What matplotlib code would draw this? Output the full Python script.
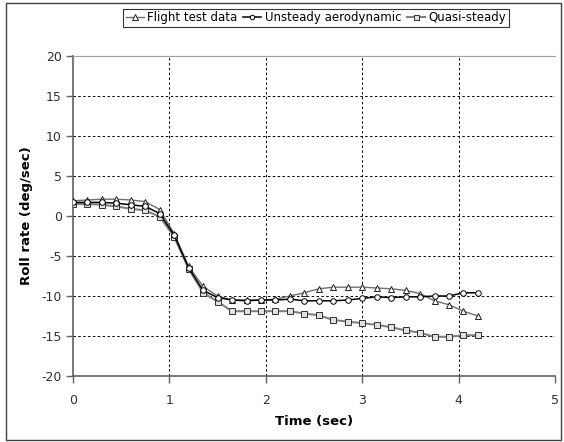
import numpy as np
import matplotlib
matplotlib.use("Agg")
import matplotlib.pyplot as plt
from matplotlib.patches import Rectangle

time_s = [0.0, 0.15, 0.3, 0.45, 0.6, 0.75, 0.9, 1.05, 1.2, 1.35, 1.5, 1.65, 1.8, 1.95,
          2.1, 2.25, 2.4, 2.55, 2.7, 2.85, 3.0, 3.15, 3.3, 3.45, 3.6, 3.75, 3.9, 4.05, 4.2]

flight_test = [1.9, 2.0, 2.1, 2.1, 2.0, 1.8, 0.8, -2.2, -6.3, -8.8, -10.0, -10.5, -10.5, -10.5,
               -10.4, -10.0, -9.6, -9.1, -8.9, -8.9, -8.9, -9.0, -9.1, -9.3, -9.7, -10.6, -11.1, -11.9, -12.5]
unsteady = [1.7, 1.7, 1.7, 1.6, 1.4, 1.2, 0.3, -2.4, -6.5, -9.3, -10.2, -10.5, -10.6, -10.5,
            -10.5, -10.4, -10.6, -10.6, -10.6, -10.5, -10.3, -10.1, -10.2, -10.1, -10.1, -10.0, -10.0, -9.6, -9.6]
quasi_steady = [1.5, 1.5, 1.4, 1.2, 0.9, 0.7, -0.1, -2.6, -6.6, -9.6, -10.7, -11.9, -11.9, -11.9,
                -11.9, -11.9, -12.2, -12.4, -13.0, -13.2, -13.4, -13.6, -13.9, -14.3, -14.6, -15.1, -15.1, -14.9, -14.9]

x_ticks = [0, 1, 2, 3, 4, 5]
y_ticks = [-20, -15, -10, -5, 0, 5, 10, 15, 20]

plt.rcParams['font.family'] = ['DejaVu Sans']
plt.rcParams['axes.unicode_minus'] = False

W, H = 564, 442
fig = plt.figure(figsize=(W / 100, H / 100), dpi=100)
fig.patches.append(Rectangle((6 / W, 2 / H), (561 - 6) / W, (439 - 2) / H,
                             transform=fig.transFigure, fill=False,
                             edgecolor='#404040', linewidth=1.0))

ax = fig.add_axes([73 / W, 1 - 376 / H, (555 - 73) / W, (376 - 56) / H])

ax.plot(time_s, flight_test, color='#707070', linewidth=1.0, marker='^',
        markersize=5, markerfacecolor='white', markeredgecolor='#202020',
        markeredgewidth=0.7, label='Flight test data', zorder=3)
ax.plot(time_s, unsteady, color='black', linewidth=1.1, marker='o',
        markersize=4, markerfacecolor='white', markeredgecolor='black',
        markeredgewidth=0.7, label='Unsteady aerodynamic', zorder=4)
ax.plot(time_s, quasi_steady, color='#808080', linewidth=1.5, marker='s',
        markersize=4.5, markerfacecolor='#e0e0e0', markeredgecolor='#303030',
        markeredgewidth=0.7, label='Quasi-steady', zorder=3)

ax.set_xlim(0, 5)
ax.set_ylim(-20, 20)
ax.set_xticks(x_ticks)
ax.set_yticks(y_ticks)
ax.tick_params(axis='both', direction='out', length=5, width=1, color='#606060',
               labelsize=9, labelcolor='#303030')
ax.tick_params(axis='x', pad=8)
ax.tick_params(axis='y', pad=3)
ax.grid(True, color='black', linestyle=(0, (2.5, 2.5)), linewidth=0.7)
ax.xaxis.get_gridlines()[0].set_visible(False)
ax.yaxis.get_gridlines()[0].set_visible(False)
ax.yaxis.get_gridlines()[-1].set_visible(False)
for s in ['left', 'bottom']:
    ax.spines[s].set_color('#606060')
    ax.spines[s].set_linewidth(1.2)
ax.spines['top'].set_color('#a0a0a0')
ax.spines['right'].set_visible(False)

ax.set_xlabel('Time (sec)', fontsize=9.5, fontweight='bold', labelpad=6)
ax.set_ylabel('Roll rate (deg/sec)', fontsize=9.5, fontweight='bold', labelpad=6)

leg = fig.legend(loc='center', bbox_to_anchor=(316 / W, 1 - 18 / H), ncol=3,
                 frameon=True, fancybox=False, edgecolor='black', fontsize=8.5,
                 handlelength=1.5, handletextpad=0.3, columnspacing=0.5,
                 borderpad=0.25, markerscale=0.8)
leg.get_frame().set_linewidth(0.8)

fig.savefig('out.png', dpi=100)
